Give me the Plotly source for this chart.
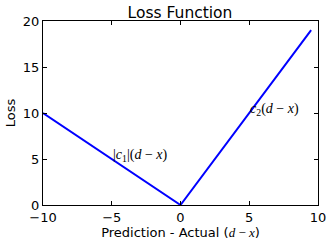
import plotly.graph_objects as go

# data
x_vals = [-10, 0, 9.5]
loss_vals = [10, 0, 19]
x_ticks = [-10, -5, 0, 5, 10]
y_ticks = [0, 5, 10, 15, 20]
ann_x = [-5, 5]
ann_y = [5, 10]
ann_text = ["|<i>c</i><sub>1</sub>|(<i>d</i> − <i>x</i>)", "<i>c</i><sub>2</sub>(<i>d</i> − <i>x</i>)"]

fig = go.Figure()
fig.add_trace(go.Scatter(x=x_vals, y=loss_vals, mode="lines",
                         line=dict(color="#0000ff", width=2), showlegend=False, hoverinfo="skip"))

for ax_, ay_, t in zip(ann_x, ann_y, ann_text):
    fig.add_annotation(x=ax_, y=ay_, text=t, showarrow=False, xanchor="left", yanchor="bottom",
                       font=dict(family="Liberation Serif", size=14, color="black"), xshift=-1, yshift=-7)

axis_common = dict(showgrid=False, zeroline=False, showline=True, linecolor="black", linewidth=1,
                   mirror="ticks", ticks="inside", ticklen=4, tickcolor="black", tickwidth=1,
                   automargin=False,
                   tickfont=dict(family="DejaVu Sans", size=13, color="black"))

fig.update_xaxes(range=[-10, 10], tickvals=x_ticks, ticktext=[("−" + str(-v)) if v < 0 else str(v) for v in x_ticks],
                 title=dict(text="Prediction - Actual (<span style=\"font-family:'Liberation Serif'\"><i>d</i> − <i>x</i></span>)",
                            font=dict(family="DejaVu Sans", size=13, color="black"), standoff=3),
                 **axis_common)
fig.update_yaxes(range=[0, 20], tickvals=y_ticks,
                 title=dict(text="Loss", font=dict(family="DejaVu Sans", size=13, color="black"), standoff=4),
                 **axis_common)

fig.update_layout(width=333, height=245, margin=dict(l=43, r=15, t=21, b=40),
                  paper_bgcolor="white", plot_bgcolor="white",
                  title=dict(text="Loss Function", x=180 / 333, xanchor="center", y=1 - 12.5 / 245, yanchor="middle",
                             font=dict(family="DejaVu Sans", size=15.5, color="black")))

fig.write_html("out.html", config={"displayModeBar": False},
               post_script="document.body.style.margin='0';document.body.style.padding='0';document.body.style.overflow='hidden';")
